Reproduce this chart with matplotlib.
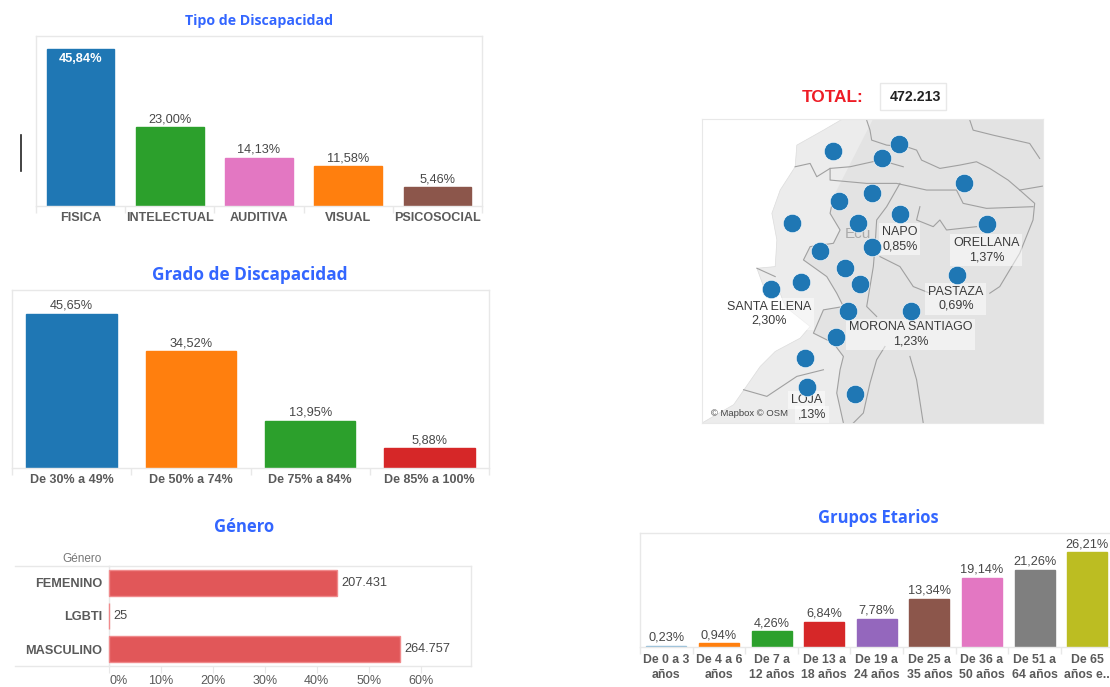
import matplotlib
matplotlib.use("Agg")
import matplotlib.pyplot as plt
from matplotlib.lines import Line2D
from matplotlib.patches import Polygon, Rectangle

W, H = 1110, 687
TITLE = "#3366ff"; GRID = "#e8e8e8"; TXT = "#5a5a5a"; VAL = "#474747"
BLUE, GREEN, PINK, ORANGE, BROWN, RED, PURPLE, GREY, OLIVE, LBLUE = (
    "#1f77b4", "#2ca02c", "#e377c2", "#ff7f0e", "#8c564b", "#d62728",
    "#9467bd", "#7f7f7f", "#bcbd22", "#8fbcd8")

tipo_cats = ["FISICA", "INTELECTUAL", "AUDITIVA", "VISUAL", "PSICOSOCIAL"]
tipo_vals = [45.84, 23.00, 14.13, 11.58, 5.46]
tipo_cols = [BLUE, GREEN, PINK, ORANGE, BROWN]

grado_cats = ["De 30% a 49%", "De 50% a 74%", "De 75% a 84%", "De 85% a 100%"]
grado_vals = [45.65, 34.52, 13.95, 5.88]
grado_cols = [BLUE, ORANGE, GREEN, RED]

genero_cats = ["FEMENINO", "LGBTI", "MASCULINO"]
genero_counts = [207431, 25, 264757]
genero_labels = ["207.431", "25", "264.757"]
genero_total = 472213

edad_cats = ["De 0 a 3\naños", "De 4 a 6\naños", "De 7 a\n12 años", "De 13 a\n18 años",
             "De 19 a\n24 años", "De 25 a\n35 años", "De 36 a\n50 años", "De 51 a\n64 años",
             "De 65\naños e.."]
edad_vals = [0.23, 0.94, 4.26, 6.84, 7.78, 13.34, 19.14, 21.26, 26.21]
edad_cols = [LBLUE, ORANGE, GREEN, RED, PURPLE, BROWN, PINK, GREY, OLIVE]

map_x = [400, 598, 545, 792, 517, 417, 600, 277, 474, 862, 517, 361, 434, 770, 303, 481, 212, 444, 633, 409, 316, 322, 465]
map_y = [212, 193, 235, 310, 340, 362, 402, 430, 428, 432, 500, 512, 563, 585, 605, 612, 626, 692, 692, 773, 835, 921, 943]
map_labels = [("NAPO\n0,85%", 600, 478), ("ORELLANA\n1,37%", 860, 510), ("PASTAZA\n0,69%", 768, 657),
              ("SANTA ELENA\n2,30%", 208, 702), ("MORONA SANTIAGO\n1,23%", 632, 764),
              ("LOJA", 318, 961), (",13%", 335, 1005)]

ocean = [(5, 115), (430, 115), (370, 150), (290, 195), (285, 260), (240, 330), (215, 400), (230, 480),
         (225, 560), (170, 565), (190, 620), (240, 640), (255, 680), (330, 740), (300, 775), (225, 815),
         (180, 860), (100, 975), (5, 1030)]
west_land = [(430, 115), (520, 115), (400, 350), (390, 400), (420, 450), (400, 490), (330, 500), (310, 540),
             (380, 590), (410, 640), (430, 680), (370, 690), (340, 760), (400, 790), (430, 830), (420, 870),
             (410, 940), (430, 1030), (5, 1030), (100, 975), (180, 860), (225, 815), (300, 775), (330, 740),
             (255, 680), (240, 640), (190, 620), (170, 565), (225, 560), (230, 480), (215, 400), (240, 330),
             (285, 260), (290, 195), (370, 150)]
borders = [
    [(500, 120), (510, 150), (515, 180), (560, 195), (620, 200), (650, 210), (665, 240), (720, 265), (780, 255), (830, 245), (870, 265), (925, 300), (960, 330), (1030, 318)],
    [(960, 330), (1005, 370), (1000, 420), (960, 520), (900, 620), (870, 640)],
    [(285, 260), (330, 250), (350, 290), (390, 265), (450, 260), (540, 240), (610, 260)],
    [(390, 265), (390, 300), (500, 310), (590, 310), (680, 330), (770, 330), (790, 370), (860, 385), (1000, 380)],
    [(400, 350), (390, 400), (420, 450), (400, 490), (330, 500), (310, 540), (380, 590), (410, 640), (430, 680), (370, 690), (340, 760), (400, 790), (430, 830), (420, 870), (410, 940), (430, 1030)],
    [(600, 310), (560, 380), (530, 420), (525, 500), (520, 560), (500, 680), (530, 710)],
    [(660, 380), (650, 420), (700, 440), (720, 420), (740, 450), (830, 440)],
    [(540, 530), (600, 560), (640, 620), (690, 640)],
    [(555, 800), (530, 840), (510, 910), (490, 1000), (460, 1030)],
    [(630, 830), (650, 900), (670, 1030)],
    [(130, 930), (200, 950), (290, 890), (370, 870)],
    [(810, 120), (820, 150), (880, 165), (990, 190), (1020, 235)],
    [(170, 565), (225, 590)],
]

plt.rcParams["font.family"] = ["Liberation Sans", "DejaVu Sans"]
fig = plt.figure(figsize=(W / 100, H / 100), dpi=100)


def box(x0, y0, x1, y1):
    return fig.add_axes([x0 / W, 1 - y1 / H, (x1 - x0) / W, (y1 - y0) / H])


def title(s, x, y, size):
    fig.text(x / W, 1 - y / H, s, color=TITLE, fontsize=size, fontweight="bold",
             fontfamily="Open Sans", ha="center", va="center")


def column(pos, cats, vals, cols, ymax, width, lab_size, tick_size, pad, inside=(), linespacing=1.2):
    ax = box(*pos)
    n = len(cats)
    ax.bar(range(n), vals, width=width, color=cols, edgecolor=cols, linewidth=1.0)
    ax.set_xlim(-0.5, n - 0.5)
    ax.set_ylim(0, ymax)
    ax.set_yticks([])
    ax.set_xticks(range(n), cats, fontsize=tick_size, color=TXT, fontweight="bold", linespacing=linespacing)
    ax.tick_params(axis="x", length=0, pad=pad)
    ax.set_xticks([i - 0.5 for i in range(n + 1)], minor=True)
    ax.tick_params(axis="x", which="minor", length=5, color=GRID, width=1)
    for s in ax.spines.values():
        s.set_color(GRID)
        s.set_linewidth(1.0)
    for i, v in enumerate(vals):
        txt = f"{v:.2f}%".replace(".", ",")
        if i in inside:
            ax.annotate(txt, (i, v), xytext=(0, -3), textcoords="offset points", ha="center", va="top",
                        fontsize=lab_size, color="white", fontweight="bold")
        else:
            ax.annotate(txt, (i, v), xytext=(0, 1.5), textcoords="offset points", ha="center", va="bottom",
                        fontsize=lab_size, color=VAL)
    return ax


# Tipo de Discapacidad
title("Tipo de Discapacidad", 259, 21, 10.2)
column((36, 36, 482, 206), tipo_cats, tipo_vals, tipo_cols, 49.6, 0.76, 9.2, 9.1, 4, inside=(0,))
fig.add_artist(Line2D([21 / W, 21 / W], [1 - 135 / H, 1 - 171 / H], color="#222222", lw=1.2))

# Grado de Discapacidad
title("Grado de Discapacidad", 250, 275, 12.4)
column((12, 290, 489, 468), grado_cats, grado_vals, grado_cols, 52.7, 0.76, 9.2, 9, 4)

# Genero
title("Género", 244, 527, 12)
ax = box(109, 566, 471, 666)
pct = [c / genero_total * 100 for c in genero_counts]
ypos = range(len(genero_cats))
ax.barh(ypos, pct, height=0.78, color="#e15759", edgecolor="#f08a8c", linewidth=1.0, zorder=3, clip_on=False)
ax.set_ylim(2.5, -0.5)
ax.set_xlim(0, 69.7)
ax.set_yticks(ypos, genero_cats, fontsize=9.2, fontweight="bold", color=TXT)
ax.tick_params(axis="y", length=0, pad=5)
ax.set_xticks(range(0, 61, 10), [f"{t}%" for t in range(0, 61, 10)], fontsize=9, color=TXT)
ax.get_xticklabels()[0].set_ha("left")
ax.tick_params(axis="x", length=5, color=GRID, pad=1.5)
for side, s in ax.spines.items():
    s.set_color(GRID)
    s.set_linewidth(1.0)
for y, v, lab in zip(ypos, pct, genero_labels):
    ax.annotate(lab, (v, y), xytext=(3, 0), textcoords="offset points", va="center", fontsize=9.2, color=VAL)
for yy in (566, 666):
    fig.add_artist(Line2D([15 / W, 109 / W], [1 - yy / H] * 2, color=GRID, lw=1.0))
fig.text(102 / W, 1 - 559 / H, "Género", fontsize=8.5, color="#777777", ha="right", va="center")

# Grupos Etarios
title("Grupos Etarios", 878, 518, 11.9)
column((640, 533, 1113.6, 646.7), edad_cats, edad_vals, edad_cols, 31.5, 0.76, 9.2, 8.8, 5, linespacing=1.35)

# Total
fig.text(833 / W, 1 - 98 / H, "TOTAL:", color="#ee1c25", fontsize=12.4, fontweight="bold", ha="center", va="center")
fig.add_artist(Rectangle((880 / W, 1 - 110 / H), 66 / W, 27 / H, transform=fig.transFigure,
                         facecolor="white", edgecolor=GRID, lw=1.0))
fig.text(915 / W, 1 - 97 / H, "472.213", color="#222222", fontsize=10.2, fontweight="bold", ha="center", va="center")

# Map
ax = box(702, 118.5, 1043, 423)
ax.set_xlim(5, 1030)
ax.set_ylim(1030, 115)
ax.set_xticks([])
ax.set_yticks([])
ax.set_facecolor("#e3e3e3")
for s in ax.spines.values():
    s.set_color(GRID)
ax.add_patch(Polygon(west_land, closed=True, facecolor="#ececec", edgecolor="none"))
ax.add_patch(Polygon(ocean, closed=True, facecolor="white", edgecolor="#dddddd", lw=0.5))
for b in borders:
    ax.plot(*zip(*b), color="#a0a0a0", lw=0.8, solid_joinstyle="round")
ax.text(435, 462, "Ecu", fontsize=11, color="#aaaaaa", va="center")
ax.scatter(map_x, map_y, s=175, color=BLUE, edgecolor="white", linewidth=0.4, zorder=3)
for s, x, y in map_labels:
    ax.text(x, y, s, fontsize=9, color="#3a3a3a", ha="center", va="center", linespacing=1.25, zorder=2,
            bbox=dict(facecolor="white", alpha=0.5, edgecolor="none", pad=2))
ax.text(33, 1000, "© Mapbox © OSM", fontsize=6.8, color="#444444", va="center", zorder=4)

fig.savefig("out.png", dpi=100)
